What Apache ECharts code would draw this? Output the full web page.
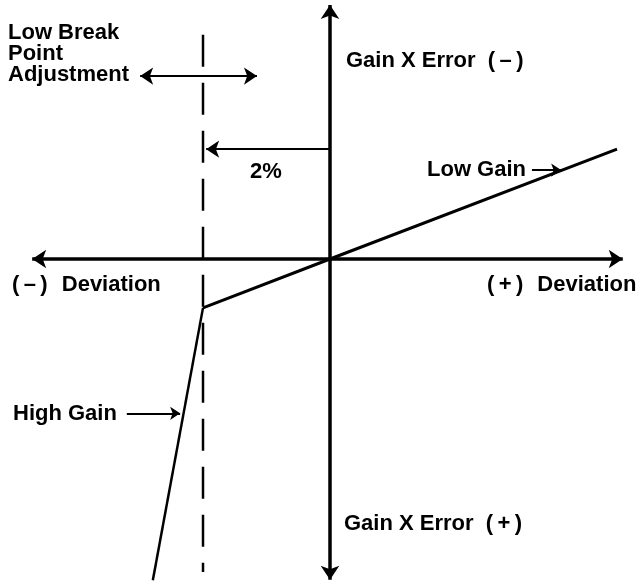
<!DOCTYPE html>
<html>
<head>
<meta charset="utf-8">
<script src="https://cdn.jsdelivr.net/npm/echarts@6/dist/echarts.min.js"></script>
<style>html,body{margin:0;padding:0;background:#fff;}#c{width:637px;height:584px;}</style>
</head>
<body>
<div id="c"></div>
<script>
// Units: x = deviation (%), y = gain x error (downwards positive)
const breakPointX = -2;               // 2% low break point
const lowGainX = [-2, 0, 4.52];
const lowGainY = [0.77, 0, -1.73];
const highGainX = [-2, -2.79];
const highGainY = [0.77, 5.06];
const dashedX = [-2, -2];
const dashedY = [-3.53, 4.93];
const hAxisX = [-4.69, 4.61];
const vAxisY = [-4.0, 5.05];
const pctArrowX = [0, -1.95];
const pctArrowY = -1.73;
const adjustArrowX = [-2.99, -1.15];
const adjustArrowY = -2.88;
const lowGainPtrX = [3.18, 3.64];
const lowGainPtrY = -1.40;
const highGainPtrX = [-3.20, -2.36];
const highGainPtrY = 2.43;

const PX = 63.5;
const chart = echarts.init(document.getElementById('c'));
const F = 'bold 22px "Liberation Sans", Arial, Helvetica, sans-serif';
function txt(t, x, y) {
  return {type: 'text', x: x, y: y, style: {text: t, font: F, fill: '#000', verticalAlign: 'middle', align: 'left'}};
}
function seg(x1, y1, x2, y2) { return {coords: [[x1, y1], [x2, y2]]}; }

chart.setOption({
  animation: false,
  grid: {left: 0, right: 0, top: 0, bottom: 0},
  xAxis: {type: 'value', min: -330 / PX, max: 307 / PX, show: false},
  yAxis: {type: 'value', min: -259 / PX, max: 325 / PX, inverse: true, show: false},
  series: [
    {type: 'line', data: dashedX.map((x, i) => [x, dashedY[i]]), symbol: 'none',
     lineStyle: {color: '#000', width: 2.5, type: [32, 16]}},
    {type: 'line', data: lowGainX.map((x, i) => [x, lowGainY[i]]), symbol: 'none',
     lineStyle: {color: '#000', width: 3}},
    {type: 'line', data: highGainX.map((x, i) => [x, highGainY[i]]), symbol: 'none',
     lineStyle: {color: '#000', width: 2.5}},
    {type: 'lines', coordinateSystem: 'cartesian2d', symbol: ['arrow', 'arrow'], symbolSize: 14,
     lineStyle: {color: '#000', width: 3.5, opacity: 1},
     data: [seg(hAxisX[0], 0, hAxisX[1], 0), seg(0, vAxisY[0], 0, vAxisY[1])]},
    {type: 'lines', coordinateSystem: 'cartesian2d', symbol: ['none', 'arrow'], symbolSize: 13,
     lineStyle: {color: '#000', width: 2, opacity: 1},
     data: [seg(pctArrowX[0], pctArrowY, pctArrowX[1], pctArrowY)]},
    {type: 'lines', coordinateSystem: 'cartesian2d', symbol: ['arrow', 'arrow'], symbolSize: 13,
     lineStyle: {color: '#000', width: 2, opacity: 1},
     data: [seg(adjustArrowX[0], adjustArrowY, adjustArrowX[1], adjustArrowY)]},
    {type: 'lines', coordinateSystem: 'cartesian2d', symbol: ['none', 'arrow'], symbolSize: 10,
     lineStyle: {color: '#000', width: 2, opacity: 1},
     data: [seg(lowGainPtrX[0], lowGainPtrY, lowGainPtrX[1], lowGainPtrY),
            seg(highGainPtrX[0], highGainPtrY, highGainPtrX[1], highGainPtrY)]}
  ],
  graphic: [
    txt('Low Break', 8, 33),
    txt('Point', 8, 54),
    txt('Adjustment', 8, 75),
    txt('Gain X Error  (\u2009\u2013\u2009)', 346, 61),
    txt('2%', 250, 172),
    txt('Low Gain', 427, 170),
    txt('(\u2009\u2013\u2009)  \u200ADeviation', 12, 285),
    txt('(\u2009+\u2009)  \u200ADeviation', 487, 285),
    txt('High Gain', 13, 414),
    txt('Gain X Error  (\u2009+\u2009)', 344, 524)
  ]
});
</script>
</body>
</html>
